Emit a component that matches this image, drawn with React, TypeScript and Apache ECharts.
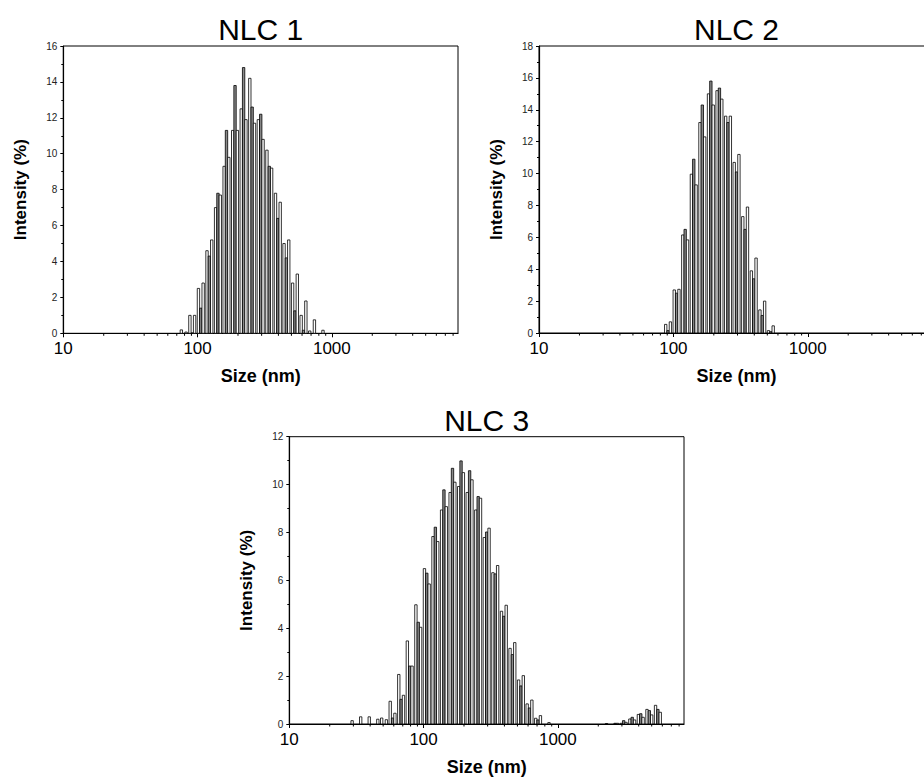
import React, { useEffect, useRef } from 'react';
import * as echarts from 'echarts';

// Bin centre sizes (nm) and intensities (%) of the three repeat runs per sample
const nlc1Sizes = [78.82, 91.28, 105.7, 122.4, 141.8, 164.2, 190.1, 220.2, 255, 295.3, 342, 396.1, 458.7, 531.2, 615.1, 712.4, 825];
const nlc1Run1 = [0.19, 1.0, 2.5, 4.6, 7.0, 9.3, 11.3, 12.5, 14.2, 11.9, 10.2, 7.8, 5.0, 2.8, 1.0, 0.13, 0];
const nlc1Run2 = [0, 0.02, 1.4, 4.3, 7.8, 11.3, 13.8, 14.8, 12.6, 12.2, 9.3, 6.4, 4.2, 1.25, 0.17, 0, 0];
const nlc1Run3 = [0.07, 1.0, 2.8, 5.2, 7.7, 9.8, 11.3, 11.9, 11.7, 10.8, 9.2, 7.3, 5.2, 3.3, 1.8, 0.75, 0.17];

const nlc2Sizes = [91.28, 105.7, 122.4, 141.8, 164.2, 190.1, 220.2, 255, 295.3, 342, 396.1, 458.7, 531.2];
const nlc2Run1 = [0.54, 2.7, 6.15, 9.96, 13.2, 15.0, 15.2, 13.6, 10.7, 7.3, 3.9, 1.45, 0.15];
const nlc2Run2 = [0.15, 2.5, 6.5, 10.9, 14.3, 15.8, 15.36, 13.2, 10.1, 6.5, 3.4, 1.1, 0.08];
const nlc2Run3 = [0.7, 2.74, 5.84, 9.29, 12.3, 14.3, 14.67, 13.6, 11.2, 7.9, 4.7, 2.0, 0.45];

const nlc3Sizes = [28.21, 32.67, 37.84, 43.82, 50.75, 58.77, 68.06, 78.82, 91.28, 105.7, 122.4, 141.8, 164.2, 190.1, 220.2, 255, 295.3, 342, 396.1, 458.7, 531.2, 615.1, 712.4, 825, 955.4, 1106, 1281, 1484, 1718, 1990, 2305, 2669, 3091, 3580, 4145, 4801, 5560];
const nlc3Run1 = [0, 0, 0, 0, 0.25, 0.95, 2.07, 3.47, 4.98, 6.49, 7.83, 8.94, 9.67, 9.92, 9.67, 8.94, 7.79, 6.32, 4.71, 3.16, 1.84, 0.84, 0.24, 0, 0, 0, 0, 0, 0, 0, 0, 0, 0.03, 0.21, 0.4, 0.61, 0.78];
const nlc3Run2 = [0, 0, 0, 0, 0, 0.25, 1.03, 2.42, 4.25, 6.3, 8.22, 9.78, 10.68, 10.99, 10.58, 9.5, 8.02, 6.27, 4.5, 2.9, 1.59, 0.67, 0.17, 0, 0, 0, 0, 0, 0, 0, 0.02, 0.03, 0.14, 0.28, 0.43, 0.56, 0.61];
const nlc3Run3 = [0.14, 0.3, 0.3, 0.2, 0.18, 0.45, 1.2, 2.42, 4.04, 5.85, 7.62, 9.08, 10.1, 10.5, 10.2, 9.43, 8.18, 6.62, 4.96, 3.4, 2.02, 1.0, 0.35, 0.06, 0, 0, 0, 0, 0, 0, 0, 0.03, 0.07, 0.17, 0.28, 0.38, 0.49];

const panelTitles = ['NLC 1', 'NLC 2', 'NLC 3'];
const yMaxima = [16, 18, 12];
const sizeMin = 10;
const sizeMax = 8700;
const minorTickSizes = [20, 30, 40, 50, 60, 70, 80, 90, 200, 300, 400, 500, 600, 700, 800, 900, 2000, 3000, 4000, 5000, 6000, 7000, 8000];

const FONT = '"Liberation Sans", Arial, Helvetica, sans-serif';
const RUN_OFFSETS = [-0.0175, 0, 0.0175];
const HALF_W = 0.0088;
const RUN_FILLS = ['#ffffff', '#8a8a8a', '#ffffff'];

const GRIDS = [
  { left: 63.3, top: 46, width: 394.7, height: 287.3 },
  { left: 539, top: 46, width: 395, height: 287 },
  { left: 289.3, top: 436.7, width: 394.7, height: 287.3 },
];

function barRenderer(offset: number, fill: string) {
  return (params: any, api: any) => {
    const size = api.value(0);
    const v = api.value(1);
    if (!(v > 0)) return null;
    const lo = size * Math.pow(10, offset - HALF_W);
    const hi = size * Math.pow(10, offset + HALF_W);
    const pTop = api.coord([lo, v]);
    const pBot = api.coord([hi, 0]);
    return {
      type: 'rect',
      shape: { x: pTop[0], y: pTop[1], width: pBot[0] - pTop[0], height: pBot[1] - pTop[1] },
      style: { fill, stroke: '#000', lineWidth: 0.8 },
    };
  };
}

function minorTickRenderer(params: any, api: any) {
  const p = api.coord([api.value(0), 0]);
  return {
    type: 'line',
    shape: { x1: p[0], y1: p[1], x2: p[0], y2: p[1] + 2.5 },
    style: { stroke: '#000', lineWidth: 1 },
  };
}

export default function App() {
  const ref = useRef<HTMLDivElement>(null);

  useEffect(() => {
    if (!ref.current) return;
    const chart = echarts.init(ref.current, undefined, { renderer: 'svg' });

    const panels = [
      { sizes: nlc1Sizes, runs: [nlc1Run1, nlc1Run2, nlc1Run3] },
      { sizes: nlc2Sizes, runs: [nlc2Run1, nlc2Run2, nlc2Run3] },
      { sizes: nlc3Sizes, runs: [nlc3Run1, nlc3Run2, nlc3Run3] },
    ];

    const series: any[] = [];
    panels.forEach((p, pi) => {
      p.runs.forEach((run, ri) => {
        series.push({
          type: 'custom',
          name: panelTitles[pi] + ' run ' + (ri + 1),
          xAxisIndex: pi,
          yAxisIndex: pi,
          coordinateSystem: 'cartesian2d',
          renderItem: barRenderer(RUN_OFFSETS[ri], RUN_FILLS[ri]),
          encode: { x: 0, y: 1 },
          data: p.sizes.map((s, i) => [s, run[i]]),
          silent: true,
        });
      });
      series.push({
        type: 'custom',
        xAxisIndex: pi,
        yAxisIndex: pi,
        coordinateSystem: 'cartesian2d',
        renderItem: minorTickRenderer,
        encode: { x: 0, y: 1 },
        data: minorTickSizes.filter((v) => v < sizeMax).map((v) => [v, 0]),
        silent: true,
        z: 5,
      });
    });

    const option: any = {
      animation: false,
      backgroundColor: '#ffffff',
      title: GRIDS.map((g, i) => ({
        text: panelTitles[i],
        left: g.left + g.width / 2,
        top: g.top - 31.4,
        textAlign: 'center',
        padding: 0,
        textStyle: { fontSize: 30, fontWeight: 'normal', color: '#000', fontFamily: FONT },
      })),
      grid: GRIDS.map((g) => ({
        ...g,
        show: true,
        borderColor: '#000',
        borderWidth: 1,
        backgroundColor: 'transparent',
        containLabel: false,
        outerBoundsMode: 'none',
      })),
      xAxis: GRIDS.map((g, i) => ({
        type: 'log',
        logBase: 10,
        gridIndex: i,
        min: sizeMin,
        max: sizeMax,
        name: 'Size (nm)',
        nameLocation: 'middle',
        nameGap: 34,
        nameTextStyle: { fontSize: 18, fontWeight: 'bold', color: '#000', fontFamily: FONT },
        axisLine: { show: true, lineStyle: { color: '#000', width: 1.2 } },
        axisTick: { show: true, inside: false, length: 4, lineStyle: { color: '#000' } },
        splitLine: { show: false },
        axisLabel: {
          fontSize: 17,
          color: '#000',
          fontFamily: FONT,
          margin: 7,
          showMaxLabel: false,
          formatter: (v: number) => {
            const l = Math.log10(v);
            return Math.abs(l - Math.round(l)) < 1e-6 ? String(Math.round(v)) : '';
          },
        },
      })),
      yAxis: GRIDS.map((g, i) => ({
        type: 'value',
        gridIndex: i,
        min: 0,
        max: yMaxima[i],
        interval: 2,
        name: 'Intensity (%)',
        nameLocation: 'middle',
        nameGap: 34,
        nameTextStyle: { fontSize: 17, fontWeight: 'bold', color: '#000', fontFamily: FONT },
        axisLine: { show: true, lineStyle: { color: '#000', width: 1.2 } },
        axisTick: { show: true, inside: false, length: 3, lineStyle: { color: '#000' } },
        minorTick: { show: true, splitNumber: 2, length: 2, lineStyle: { color: '#000' } },
        splitLine: { show: false },
        minorSplitLine: { show: false },
        axisLabel: { fontSize: 10, color: '#222', fontFamily: FONT, margin: 6 },
      })),
      series,
    };

    chart.setOption(option);
    return () => chart.dispose();
  }, []);

  return (
    <div
      ref={ref}
      style={{ position: 'absolute', left: 0, top: 0, width: 924, height: 780, background: '#fff' }}
    />
  );
}
